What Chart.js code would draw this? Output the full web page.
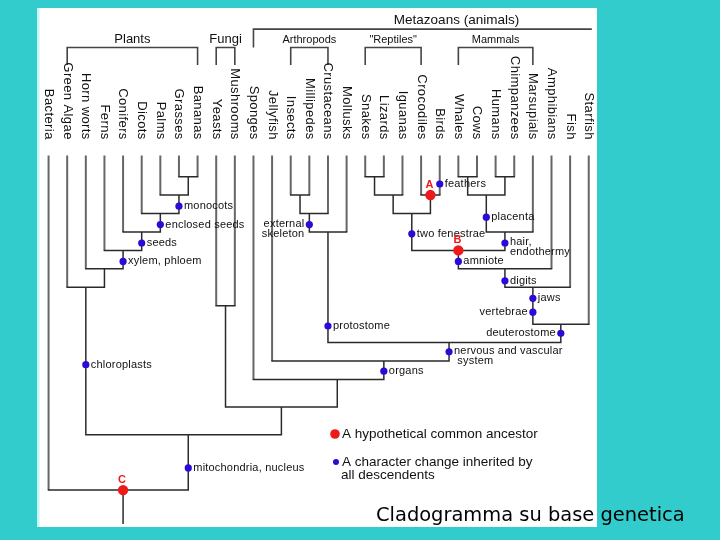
<!DOCTYPE html>
<html>
<head>
<meta charset="utf-8">
<title>Cladogramma su base genetica</title>
<script src="https://cdn.jsdelivr.net/npm/chart.js@4.4.1/dist/chart.umd.min.js"></script>
<style>
html,body{margin:0;padding:0;background:#33cccc;overflow:hidden;}
canvas{display:block;}
</style>
</head>
<body>
<canvas id="chart" width="720" height="540"></canvas>
<script>
// ================= DATA =================
const taxa = ['Bacteria','Green Algae','Horn worts','Ferns','Conifers','Dicots','Palms','Grasses','Bananas',
  'Yeasts','Mushrooms','Sponges','Jellyfish','Insects','Millipedes','Crustaceans','Mollusks',
  'Snakes','Lizards','Iguanas','Crocodiles','Birds','Whales','Cows','Humans','Chimpanzees',
  'Marsupials','Amphibians','Fish','Starfish'];

// clades: children, branching level (depth below the tips), stem position on the taxon axis
const cladeNames = ['grassBanana','monocot','angio','seedPl','vascular','landPl','plants','fungi',
  'insMil','mandib','protostomes','snakeLiz','squam','archo','diapsid','whaleCow','primate',
  'placental','mammal','amniote','tetrapod','gnath','deutero','bilateria','eumetazoa','metazoa',
  'opisthokont','eukaryote','life'];
const cladeChildren = [['Grasses','Bananas'],['Palms','grassBanana'],['Dicots','monocot'],['Conifers','angio'],
  ['Ferns','seedPl'],['Horn worts','vascular'],['Green Algae','landPl'],['Yeasts','Mushrooms'],
  ['Insects','Millipedes'],['insMil','Crustaceans'],['mandib','Mollusks'],['Snakes','Lizards'],
  ['snakeLiz','Iguanas'],['Crocodiles','Birds'],['squam','archo'],['Whales','Cows'],['Humans','Chimpanzees'],
  ['whaleCow','primate'],['placental','Marsupials'],['diapsid','mammal'],['amniote','Amphibians'],
  ['tetrapod','Fish'],['gnath','Starfish'],['protostomes','deutero'],['Jellyfish','bilateria'],
  ['Sponges','eumetazoa'],['fungi','metazoa'],['plants','opisthokont'],['Bacteria','eukaryote']];
const cladeLevels = [1,2,3,4,5,6,7,8, 2,3,4, 1,2,2,3, 1,1,2,4,5,6,7,9, 10,11,12,13.5,15,18];
const cladeStems  = [7.5,7.0,6.0,5.0,4.0,3.0,2.0,9.5, 13.5,14.0,15.0, 17.5,18.5,20.5,19.5,
  22.5,24.5,23.5,24.5,22.0,24.5,26.0,27.5, 21.5,18.0,15.5,12.5,7.5,4.0];

// character changes (blue dots)
const characterNames  = ['monocots','enclosed seeds','seeds','xylem, phloem','chloroplasts','mitochondria, nucleus',
  'external\nskeleton','protostome','feathers','placenta','two fenestrae','hair,\nendothermy','amniote',
  'digits','jaws','vertebrae','deuterostome','nervous and vascular\n system','organs'];
const characterBranch = [7.0,6.0,5.0,4.0,2.0,7.5, 14.0,15.0,21.0,23.5,19.5,24.5,22.0, 24.5,26.0,26.0,27.5,21.5,18.0];
const characterLevel  = [2.6,3.6,4.6,5.6,11.2,16.8, 3.6,9.1,1.4,3.2,4.1,4.6,5.6, 6.65,7.6,8.35,9.5,10.5,11.55];
const characterLabelLeft = ['external\nskeleton','vertebrae','deuterostome'];

// hypothetical common ancestors (red dots)
const ancestorNames = ['A','B','C'];
const ancestorClades = ['archo','amniote','life'];

// named groups (brackets above the tips)
const groupNames = ['Plants','Fungi','Arthropods','"Reptiles"','Mammals','Metazoans (animals)'];
const groupFirst = [1,9,13,17,22,11];
const groupLast  = [8,10,15,20,26,32.8];
const groupRank  = [0,0,0,0,0,1];

const legendItems = ['A hypothetical common ancestor','A character change inherited by\nall descendents'];
const titleText = 'Cladogramma su base genetica';

// ================= GEOMETRY (built from the data) =================
const TIP_LEVEL = -0.15, ROOT_END = 19.8;
const pos = {};
taxa.forEach((t,i)=>{ pos[t] = {x:i, level:TIP_LEVEL}; });
cladeNames.forEach((n,k)=>{ pos[n] = {x:cladeStems[k], level:cladeLevels[k]}; });

const tipLines = [], innerLines = [];
const gap = (arr,x)=>arr.push({x:x, y:null});
cladeNames.forEach((n,k)=>{
  const L = cladeLevels[k];
  const [a,b] = cladeChildren[k];
  [a,b].forEach(c=>{
    const target = taxa.includes(c) ? tipLines : innerLines;
    target.push({x:pos[c].x, y:pos[c].level},{x:pos[c].x, y:L}); gap(target,pos[c].x);
  });
  innerLines.push({x:pos[a].x, y:L},{x:pos[b].x, y:L}); gap(innerLines,pos[b].x);
});
const rootK = cladeNames.length-1;
innerLines.push({x:cladeStems[rootK], y:cladeLevels[rootK]},{x:cladeStems[rootK], y:ROOT_END});

const bracketLines = [];
groupNames.forEach((g,k)=>{
  const top = -6 - groupRank[k];
  const tipEnd = groupRank[k] ? -6 : -5.05;
  bracketLines.push({x:groupFirst[k],y:tipEnd},{x:groupFirst[k],y:top},{x:groupLast[k],y:top},{x:groupLast[k],y:tipEnd});
  gap(bracketLines, groupLast[k]);
});

const charPts = characterNames.map((n,k)=>({x:characterBranch[k], y:characterLevel[k]}));
const ancPts = ancestorClades.map(c=>({x:pos[c].x, y:pos[c].level}));

// ================= DRAWING =================
const BLUE = '#2a0ad8', RED = '#ee1a1a', FONT = '"Liberation Sans", Arial, sans-serif';
const PANEL = {left:37, top:8, right:597, bottom:527};

const decor = {
  id:'decor',
  beforeDraw(chart){
    const c = chart.ctx;
    c.save();
    c.fillStyle = '#33cccc'; c.fillRect(0,0,chart.width,chart.height);
    c.fillStyle = '#ffffff'; c.fillRect(PANEL.left,PANEL.top,PANEL.right-PANEL.left,PANEL.bottom-PANEL.top);
    c.fillStyle = '#c8f4f6'; c.fillRect(PANEL.left,PANEL.top,2.5,PANEL.bottom-PANEL.top);
    c.restore();
  },
  afterDraw(chart){
    const c = chart.ctx, sx = chart.scales.x, sy = chart.scales.y;
    const px = v=>sx.getPixelForValue(v), py = v=>sy.getPixelForValue(v);
    const spacing = v=>{ if ('letterSpacing' in c) c.letterSpacing = v; };
    c.save();
    c.fillStyle = '#111';
    // tip labels, rotated
    c.font = '13px '+FONT;
    spacing('0.4px');
    taxa.forEach((t,i)=>{
      c.save();
      c.translate(px(i), py(-1.0));
      c.rotate(Math.PI/2);
      c.textAlign='right'; c.textBaseline='middle';
      c.fillText(t,0,0);
      c.restore();
    });
    spacing('0px');
    // group labels
    const gSize = [13,13,11,11,11,13.5];
    groupNames.forEach((g,k)=>{
      c.font = gSize[k]+'px '+FONT;
      c.textAlign='center'; c.textBaseline='middle';
      const top = py(-6 - groupRank[k]);
      c.fillText(g, (px(groupFirst[k])+px(groupLast[k]))/2, top - (groupRank[k]?9:8));
    });
    // character labels
    c.font = '11px '+FONT;
    spacing('0.2px');
    characterNames.forEach((n,k)=>{
      const x = px(characterBranch[k]), y = py(characterLevel[k]);
      const left = characterLabelLeft.includes(n);
      c.textAlign = left?'right':'left'; c.textBaseline='middle';
      n.split('\n').forEach((line,j)=>{
        c.fillText(line, left? x-5 : x+5, y - (n.includes('\n')?1:0) + j*10);
      });
    });
    spacing('0px');
    // ancestor labels
    c.fillStyle = RED; c.font = 'bold 11px '+FONT; c.textAlign='center'; c.textBaseline='middle';
    ancPts.forEach((p,k)=>{ c.fillText(ancestorNames[k], px(p.x)-1, py(p.y)-10); });
    // legend
    c.fillStyle = RED; c.beginPath(); c.arc(335,434,4.8,0,Math.PI*2); c.fill();
    c.fillStyle = BLUE; c.beginPath(); c.arc(336,462,3,0,Math.PI*2); c.fill();
    c.fillStyle = '#111'; c.font = '13.5px '+FONT; c.textAlign='left'; c.textBaseline='middle';
    c.fillText(legendItems[0], 342, 434);
    legendItems[1].split('\n').forEach((line,j)=>c.fillText(line, j?341:342, 462+j*13.5));
    // title
    let fs = 20;
    c.font = fs+'px "Comic Sans MS", "DejaVu Sans", sans-serif';
    const w = c.measureText(titleText).width;
    fs = fs*309/w;
    c.font = fs.toFixed(2)+'px "Comic Sans MS", "DejaVu Sans", sans-serif';
    c.textAlign='left'; c.textBaseline='alphabetic'; c.fillStyle='#000';
    c.fillText(titleText, 376, 521);
    c.restore();
  }
};

const xMin = -44/18.9, yMin = -156/18.8;
new Chart(document.getElementById('chart'), {
  type:'scatter',
  data:{ datasets:[
    {label:'ancestors', data:ancPts, pointRadius:5.2, pointBackgroundColor:RED, pointBorderWidth:0, showLine:false, order:0},
    {label:'characters', data:charPts, pointRadius:3.6, pointBackgroundColor:BLUE, pointBorderWidth:0, showLine:false, order:1},
    {label:'inner', data:innerLines, showLine:true, spanGaps:false, pointRadius:0, borderColor:'#2a2a2a', borderWidth:1.5, borderCapStyle:'square', order:2},
    {label:'tips', data:tipLines, showLine:true, spanGaps:false, pointRadius:0, borderColor:'#666666', borderWidth:2, borderCapStyle:'butt', order:3},
    {label:'groups', data:bracketLines, showLine:true, spanGaps:false, pointRadius:0, borderColor:'#444444', borderWidth:1.6, order:4,
      clip:{left:0, top:0, right:-(720-PANEL.right), bottom:0}}
  ]},
  options:{
    responsive:false, animation:false, devicePixelRatio:1,
    layout:{padding:0},
    plugins:{legend:{display:false}, tooltip:{enabled:false}},
    scales:{
      x:{type:'linear', display:false, min:xMin, max:xMin+720/18.9},
      y:{type:'linear', display:false, reverse:true, min:yMin, max:yMin+540/18.8}
    }
  },
  plugins:[decor]
});
</script>
</body>
</html>
